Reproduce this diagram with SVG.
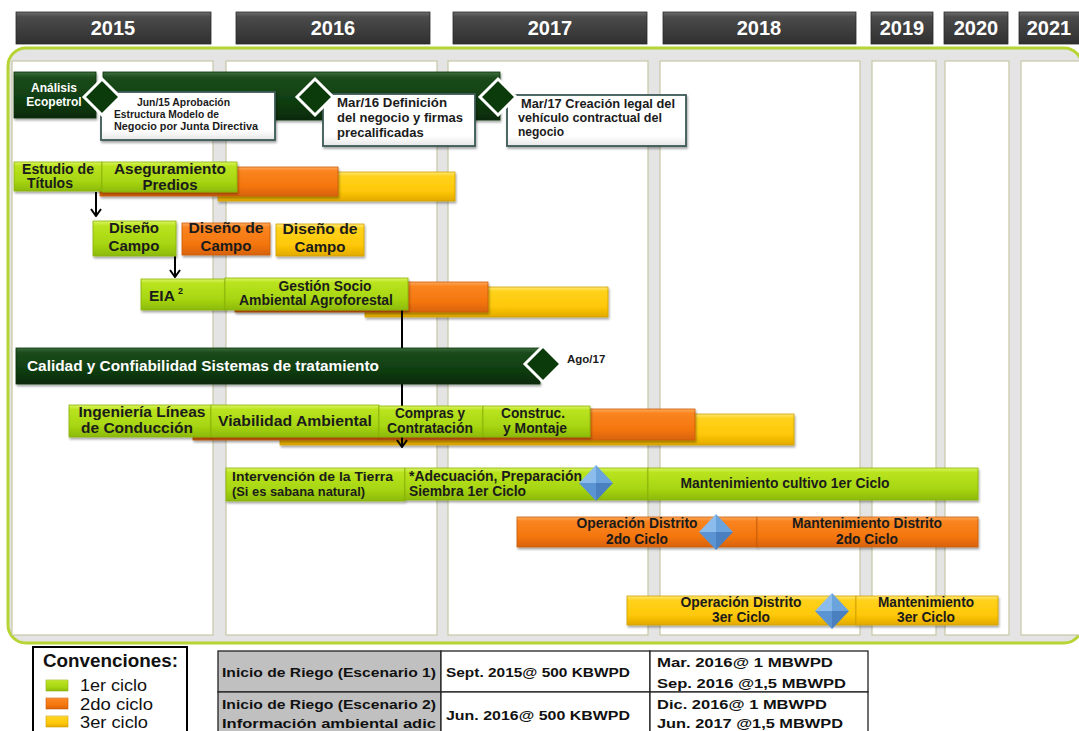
<svg xmlns="http://www.w3.org/2000/svg" width="1079" height="731" viewBox="0 0 1079 731">
  <defs>
    <linearGradient id="gGreen" x1="0" y1="0" x2="0" y2="1">
      <stop offset="0" stop-color="#dcf460"/>
      <stop offset="0.14" stop-color="#b9e31e"/>
      <stop offset="0.65" stop-color="#a7d612"/>
      <stop offset="1" stop-color="#8cba0a"/>
    </linearGradient>
    <linearGradient id="gOrange" x1="0" y1="0" x2="0" y2="1">
      <stop offset="0" stop-color="#ffaa5c"/>
      <stop offset="0.14" stop-color="#fa8420"/>
      <stop offset="0.65" stop-color="#f4760e"/>
      <stop offset="1" stop-color="#d8620a"/>
    </linearGradient>
    <linearGradient id="gYellow" x1="0" y1="0" x2="0" y2="1">
      <stop offset="0" stop-color="#ffe878"/>
      <stop offset="0.14" stop-color="#ffd21c"/>
      <stop offset="0.65" stop-color="#ffc808"/>
      <stop offset="1" stop-color="#e2aa00"/>
    </linearGradient>
    <linearGradient id="gDark" x1="0" y1="0" x2="0" y2="1">
      <stop offset="0" stop-color="#3f6e3f"/>
      <stop offset="0.12" stop-color="#1b4b1b"/>
      <stop offset="0.65" stop-color="#0e3c10"/>
      <stop offset="1" stop-color="#062906"/>
    </linearGradient>
    <linearGradient id="gHead" x1="0" y1="0" x2="0" y2="1">
      <stop offset="0" stop-color="#6e6e6e"/>
      <stop offset="0.15" stop-color="#4b4b4b"/>
      <stop offset="1" stop-color="#303030"/>
    </linearGradient>
    <linearGradient id="gNote" x1="0" y1="0" x2="0" y2="1">
      <stop offset="0" stop-color="#ffffff"/>
      <stop offset="0.8" stop-color="#ffffff"/>
      <stop offset="1" stop-color="#e6e6e6"/>
    </linearGradient>
    <filter id="shadow" x="-10%" y="-20%" width="130%" height="160%">
      <feDropShadow dx="1" dy="2" stdDeviation="1.2" flood-color="#000" flood-opacity="0.35"/>
    </filter>
    <marker id="vhead" viewBox="0 0 12 10" refX="6" refY="9" markerWidth="12" markerHeight="10" markerUnits="userSpaceOnUse" orient="0">
      <path d="M1,2 L6,9 L11,2" fill="none" stroke="#000" stroke-width="2"/>
    </marker>
  </defs>
  <style>
    .t { font-family: "Liberation Sans", Arial, sans-serif; font-weight: bold; fill: #1b1b1b; }
    .w { font-family: "Liberation Sans", Arial, sans-serif; font-weight: bold; fill: #ffffff; }
    .c { text-anchor: middle; }
    .year { font-family: "Liberation Sans", Arial, sans-serif; font-weight: bold; font-size: 20px; fill: #ffffff; text-anchor: middle; }
    .col { fill: #ffffff; stroke: #c9c7a6; stroke-width: 1.2; }
    .head { fill: url(#gHead); stroke: #2a2a2a; stroke-width: 0.8; }
    .green { fill: url(#gGreen); stroke: #8ab20e; stroke-width: 0.8; filter: url(#shadow); }
    .orange { fill: url(#gOrange); stroke: #c95c0a; stroke-width: 0.8; filter: url(#shadow); }
    .yellow { fill: url(#gYellow); stroke: #d2a000; stroke-width: 0.8; filter: url(#shadow); }
    .dark { fill: url(#gDark); stroke: #0a300a; stroke-width: 0.8; filter: url(#shadow); }
    .ms { fill: #0b3a0b; stroke: #ffffff; stroke-width: 3; }
    .note { fill: url(#gNote); stroke: #3c5a56; stroke-width: 1.8; filter: url(#shadow); }
    .conn { fill: none; stroke: #000; stroke-width: 2; }
    .tb { font-family: "Liberation Sans", Arial, sans-serif; font-weight: bold; font-size: 13px; fill: #111; }
    .cell { stroke: #222; stroke-width: 1.3; }
    .lg { font-family: "Liberation Sans", Arial, sans-serif; font-size: 17px; fill: #111; }
  </style>

  <rect width="1079" height="731" fill="#ffffff"/>

  <!-- year header row -->
  <g id="years">
    <rect class="head" x="16" y="12" width="195" height="32"/>
    <text class="year" x="113" y="35">2015</text>
    <rect class="head" x="236" y="12" width="194" height="32"/>
    <text class="year" x="333" y="35">2016</text>
    <rect class="head" x="453" y="12" width="194" height="32"/>
    <text class="year" x="550" y="35">2017</text>
    <rect class="head" x="663" y="12" width="193" height="32"/>
    <text class="year" x="759" y="35">2018</text>
    <rect class="head" x="871" y="12" width="62" height="32"/>
    <text class="year" x="902" y="35">2019</text>
    <rect class="head" x="944" y="12" width="64" height="32"/>
    <text class="year" x="976" y="35">2020</text>
    <rect class="head" x="1019" y="12" width="70" height="32"/>
    <text class="year" x="1049" y="35">2021</text>
  </g>

  <!-- timeline frame and year columns -->
  <g id="frame">
    <rect x="8" y="48" width="1074" height="595" rx="18" fill="#e4e4e4" stroke="#b6d432" stroke-width="3"/>
    <rect class="col" x="12" y="61" width="201" height="574"/>
    <rect class="col" x="226" y="61" width="211" height="574"/>
    <rect class="col" x="448" y="61" width="200" height="574"/>
    <rect class="col" x="660" y="61" width="200" height="574"/>
    <rect class="col" x="872" y="61" width="64" height="574"/>
    <rect class="col" x="945" y="61" width="64" height="574"/>
    <rect class="col" x="1021" y="61" width="66" height="574"/>
  </g>

  <!-- later-cycle bars lying under the first-cycle tasks -->
  <g id="predios-ciclo3"><rect class="yellow" x="218" y="172" width="237" height="29"/></g>
  <g id="predios-ciclo2"><rect class="orange" x="100" y="167" width="238" height="29"/></g>
  <g id="gestion-ciclo3"><rect class="yellow" x="365" y="287" width="243" height="30"/></g>
  <g id="gestion-ciclo2"><rect class="orange" x="235" y="282" width="253" height="30"/></g>
  <g id="lineas-ciclo3"><rect class="yellow" x="280" y="414" width="514" height="31"/></g>
  <g id="lineas-ciclo2"><rect class="orange" x="193" y="409" width="502" height="31"/></g>

  <!-- dependency arrows -->
  <g id="connectors">
    <line class="conn" x1="96" y1="192" x2="96" y2="216" marker-end="url(#vhead)"/>
    <line class="conn" x1="175" y1="256" x2="175" y2="277" marker-end="url(#vhead)"/>
    <line class="conn" x1="402" y1="310" x2="402" y2="447" marker-end="url(#vhead)"/>
  </g>

  <!-- business structure track -->
  <g id="estructura-negocio">
    <rect class="dark" x="103" y="72" width="397" height="48"/>
  </g>
  <g id="analisis-ecopetrol">
    <rect class="dark" x="14" y="72" width="82" height="46"/>
    <text class="w c" x="54" y="92" font-size="12">Análisis</text>
    <text class="w c" x="54" y="106" font-size="12">Ecopetrol</text>
  </g>
  <g id="hito-jun15">
    <rect class="note" x="101" y="92" width="174" height="48"/>
    <polygon class="ms" points="102,79 120,97 102,115 84,97"/>
    <text class="t" x="137" y="106" font-size="10.5" textLength="93" lengthAdjust="spacingAndGlyphs">Jun/15 Aprobación</text>
    <text class="t" x="114" y="118" font-size="10.5" textLength="105" lengthAdjust="spacingAndGlyphs">Estructura Modelo de</text>
    <text class="t" x="114" y="130" font-size="10.5" textLength="144" lengthAdjust="spacingAndGlyphs">Negocio por Junta Directiva</text>
  </g>
  <g id="hito-mar16">
    <rect class="note" x="323" y="94" width="152" height="52"/>
    <polygon class="ms" points="315,79 333,97 315,115 297,97"/>
    <text class="t" x="337" y="107" font-size="13" textLength="110" lengthAdjust="spacingAndGlyphs">Mar/16  Definición</text>
    <text class="t" x="337" y="122" font-size="13" textLength="126" lengthAdjust="spacingAndGlyphs">del negocio y firmas</text>
    <text class="t" x="337" y="137" font-size="13">precalificadas</text>
  </g>
  <g id="hito-mar17">
    <rect class="note" x="507" y="95" width="179" height="51"/>
    <polygon class="ms" points="498,79 516,97 498,115 480,97"/>
    <text class="t" x="521" y="108" font-size="12" textLength="154" lengthAdjust="spacingAndGlyphs">Mar/17 Creación legal del</text>
    <text class="t" x="518" y="122" font-size="12" textLength="144" lengthAdjust="spacingAndGlyphs">vehículo contractual del</text>
    <text class="t" x="518" y="136" font-size="12">negocio</text>
  </g>

  <!-- land track -->
  <g id="estudio-titulos">
    <rect class="green" x="14" y="162" width="88" height="29"/>
    <text class="t c" x="58" y="174" font-size="14" textLength="72" lengthAdjust="spacingAndGlyphs">Estudio de</text>
    <text class="t c" x="50" y="188" font-size="14">Títulos</text>
  </g>
  <g id="aseguramiento-predios">
    <rect class="green" x="102" y="162" width="135" height="30"/>
    <text class="t c" x="170" y="174" font-size="15" textLength="112" lengthAdjust="spacingAndGlyphs">Aseguramiento</text>
    <text class="t c" x="170" y="190" font-size="15">Predios</text>
  </g>
  <g id="diseno-campo-1">
    <rect class="green" x="93" y="221" width="83" height="35"/>
    <text class="t c" x="134" y="233" font-size="15">Diseño</text>
    <text class="t c" x="134" y="251" font-size="15">Campo</text>
  </g>
  <g id="diseno-campo-2">
    <rect class="orange" x="182" y="223" width="88" height="32"/>
    <text class="t c" x="226" y="233" font-size="15" textLength="75" lengthAdjust="spacingAndGlyphs">Diseño de</text>
    <text class="t c" x="226" y="251" font-size="15">Campo</text>
  </g>
  <g id="diseno-campo-3">
    <rect class="yellow" x="276" y="224" width="88" height="32"/>
    <text class="t c" x="320" y="234" font-size="15" textLength="75" lengthAdjust="spacingAndGlyphs">Diseño de</text>
    <text class="t c" x="320" y="252" font-size="15">Campo</text>
  </g>
  <g id="eia">
    <rect class="green" x="141" y="279" width="84" height="31"/>
    <text class="t" x="149" y="301" font-size="15.5">EIA</text>
    <text class="t" x="178" y="294" font-size="9">2</text>
  </g>
  <g id="gestion-socio-ambiental">
    <rect class="green" x="225" y="278" width="183" height="32"/>
    <text class="t c" x="325" y="291" font-size="14" textLength="93" lengthAdjust="spacingAndGlyphs">Gestión  Socio</text>
    <text class="t c" x="316" y="305" font-size="14" textLength="154" lengthAdjust="spacingAndGlyphs">Ambiental Agroforestal</text>
  </g>

  <!-- treatment systems track -->
  <g id="calidad-confiabilidad">
    <rect class="dark" x="16" y="348" width="524" height="36"/>
    <polygon class="ms" points="543,346 561,364 543,382 525,364"/>
    <text class="w" x="27" y="371" font-size="14" textLength="352" lengthAdjust="spacingAndGlyphs">Calidad y Confiabilidad Sistemas de tratamiento</text>
    <text class="t" x="567" y="363" font-size="11.5">Ago/17</text>
  </g>

  <!-- conduction lines track -->
  <g id="ingenieria-lineas">
    <rect class="green" x="69" y="405" width="142" height="32"/>
    <text class="t c" x="142" y="417" font-size="15" textLength="127" lengthAdjust="spacingAndGlyphs">Ingeniería Líneas</text>
    <text class="t c" x="137" y="433" font-size="15" textLength="112" lengthAdjust="spacingAndGlyphs">de Conducción</text>
  </g>
  <g id="viabilidad-ambiental">
    <rect class="green" x="211" y="405" width="168" height="32"/>
    <text class="t c" x="295" y="426" font-size="15.5" textLength="154" lengthAdjust="spacingAndGlyphs">Viabilidad Ambiental</text>
  </g>
  <g id="compras-contratacion">
    <rect class="green" x="379" y="406" width="104" height="31"/>
    <text class="t c" x="430" y="418" font-size="14" textLength="70" lengthAdjust="spacingAndGlyphs">Compras y</text>
    <text class="t c" x="430" y="433" font-size="14" textLength="86" lengthAdjust="spacingAndGlyphs">Contratación</text>
  </g>
  <g id="construccion-montaje">
    <rect class="green" x="483" y="406" width="107" height="31"/>
    <text class="t c" x="533" y="418" font-size="14" textLength="64" lengthAdjust="spacingAndGlyphs">Construc.</text>
    <text class="t c" x="535" y="433" font-size="14" textLength="64" lengthAdjust="spacingAndGlyphs">y Montaje</text>
  </g>

  <!-- operation tracks -->
  <g id="intervencion-tierra">
    <rect class="green" x="226" y="468" width="179" height="33"/>
    <text class="t" x="232" y="481" font-size="13.5" textLength="161" lengthAdjust="spacingAndGlyphs">Intervención  de la Tierra</text>
    <text class="t" x="232" y="496" font-size="12.5" textLength="133" lengthAdjust="spacingAndGlyphs">(Si es sabana natural)</text>
  </g>
  <g id="adecuacion-siembra">
    <rect class="green" x="405" y="468" width="243" height="32"/>
    <text class="t" x="409" y="481" font-size="14" textLength="173" lengthAdjust="spacingAndGlyphs">*Adecuación, Preparación</text>
    <text class="t" x="409" y="496" font-size="14" textLength="117" lengthAdjust="spacingAndGlyphs">Siembra  1er Ciclo</text>
  </g>
  <g id="mantenimiento-cultivo">
    <rect class="green" x="648" y="468" width="330" height="32"/>
    <text class="t c" x="785" y="488" font-size="14" textLength="209" lengthAdjust="spacingAndGlyphs">Mantenimiento cultivo  1er Ciclo</text>
  </g>
  <g id="hito-siembra">
    <polygon points="596,465 596,483 579,483" fill="#8cbcec"/>
    <polygon points="596,465 613,483 596,483" fill="#6ba3dc"/>
    <polygon points="579,483 596,483 596,501" fill="#5b94d2"/>
    <polygon points="596,483 613,483 596,501" fill="#4a80c0"/>
  </g>

  <g id="operacion-distrito-2">
    <rect class="orange" x="517" y="517" width="240" height="30"/>
    <text class="t c" x="637" y="528" font-size="14" textLength="121" lengthAdjust="spacingAndGlyphs">Operación Distrito</text>
    <text class="t c" x="637" y="544" font-size="14" textLength="62" lengthAdjust="spacingAndGlyphs">2do Ciclo</text>
  </g>
  <g id="mantenimiento-distrito-2">
    <rect class="orange" x="757" y="517" width="221" height="30"/>
    <text class="t c" x="867" y="528" font-size="14" textLength="150" lengthAdjust="spacingAndGlyphs">Mantenimiento Distrito</text>
    <text class="t c" x="867" y="544" font-size="14" textLength="62" lengthAdjust="spacingAndGlyphs">2do Ciclo</text>
  </g>
  <g id="hito-ciclo-2">
    <polygon points="716,514 716,532 699,532" fill="#8cbcec"/>
    <polygon points="716,514 733,532 716,532" fill="#6ba3dc"/>
    <polygon points="699,532 716,532 716,550" fill="#5b94d2"/>
    <polygon points="716,532 733,532 716,550" fill="#4a80c0"/>
  </g>

  <g id="operacion-distrito-3">
    <rect class="yellow" x="627" y="596" width="229" height="29"/>
    <text class="t c" x="741" y="607" font-size="14" textLength="121" lengthAdjust="spacingAndGlyphs">Operación Distrito</text>
    <text class="t c" x="741" y="622" font-size="14" textLength="58" lengthAdjust="spacingAndGlyphs">3er Ciclo</text>
  </g>
  <g id="mantenimiento-3">
    <rect class="yellow" x="856" y="596" width="142" height="29"/>
    <text class="t c" x="926" y="607" font-size="14" textLength="96" lengthAdjust="spacingAndGlyphs">Mantenimiento</text>
    <text class="t c" x="926" y="622" font-size="14" textLength="58" lengthAdjust="spacingAndGlyphs">3er Ciclo</text>
  </g>
  <g id="hito-ciclo-3">
    <polygon points="832,593 832,611 815,611" fill="#8cbcec"/>
    <polygon points="832,593 849,611 832,611" fill="#6ba3dc"/>
    <polygon points="815,611 832,611 832,629" fill="#5b94d2"/>
    <polygon points="832,611 849,611 832,629" fill="#4a80c0"/>
  </g>

  <!-- legend -->
  <g id="convenciones">
    <rect x="33" y="647" width="154" height="90" fill="#ffffff" stroke="#000" stroke-width="2"/>
    <text x="43" y="667" font-family="Liberation Sans, Arial, sans-serif" font-weight="bold" font-size="17.5" fill="#111" textLength="135" lengthAdjust="spacingAndGlyphs">Convenciones:</text>
    <rect x="46" y="680" width="22" height="11" fill="url(#gGreen)" stroke="#8ab20e" stroke-width="0.6"/>
    <rect x="46" y="698" width="22" height="11" fill="url(#gOrange)" stroke="#c95c0a" stroke-width="0.6"/>
    <rect x="46" y="716" width="22" height="11" fill="url(#gYellow)" stroke="#d2a000" stroke-width="0.6"/>
    <text class="lg" x="80" y="691" textLength="67" lengthAdjust="spacingAndGlyphs">1er ciclo</text>
    <text class="lg" x="80" y="710" textLength="73" lengthAdjust="spacingAndGlyphs">2do ciclo</text>
    <text class="lg" x="80" y="728" textLength="68" lengthAdjust="spacingAndGlyphs">3er ciclo</text>
  </g>

  <!-- irrigation start table -->
  <g id="tabla-riego">
    <rect class="cell" x="218" y="651" width="223" height="41" fill="#c0c0c0"/>
    <rect class="cell" x="218" y="692" width="223" height="45" fill="#c0c0c0"/>
    <rect class="cell" x="441" y="651" width="209" height="41" fill="#ffffff"/>
    <rect class="cell" x="441" y="692" width="209" height="45" fill="#ffffff"/>
    <rect class="cell" x="650" y="651" width="218" height="41" fill="#ffffff"/>
    <rect class="cell" x="650" y="692" width="218" height="45" fill="#ffffff"/>
    <text class="tb" x="222" y="677" textLength="214" lengthAdjust="spacingAndGlyphs">Inicio de Riego (Escenario 1)</text>
    <text class="tb" x="446" y="677" textLength="184" lengthAdjust="spacingAndGlyphs">Sept. 2015@ 500 KBWPD</text>
    <text class="tb" x="657" y="667" textLength="176" lengthAdjust="spacingAndGlyphs">Mar. 2016@ 1 MBWPD</text>
    <text class="tb" x="657" y="688" textLength="189" lengthAdjust="spacingAndGlyphs">Sep. 2016 @1,5 MBWPD</text>
    <text class="tb" x="222" y="709" textLength="214" lengthAdjust="spacingAndGlyphs">Inicio de Riego (Escenario 2)</text>
    <text class="tb" x="222" y="728" textLength="214" lengthAdjust="spacingAndGlyphs">Información ambiental adic</text>
    <text class="tb" x="446" y="720" textLength="184" lengthAdjust="spacingAndGlyphs">Jun. 2016@ 500 KBWPD</text>
    <text class="tb" x="657" y="709" textLength="170" lengthAdjust="spacingAndGlyphs">Dic. 2016@ 1 MBWPD</text>
    <text class="tb" x="657" y="728" textLength="186" lengthAdjust="spacingAndGlyphs">Jun. 2017 @1,5 MBWPD</text>
  </g>
</svg>
